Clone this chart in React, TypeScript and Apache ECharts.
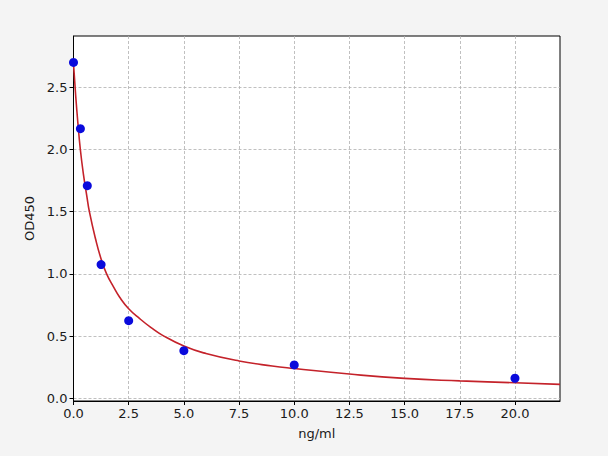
import { useEffect, useRef } from 'react';
import * as echarts from 'echarts';

// axis ticks
const xTicks = [0, 2.5, 5, 7.5, 10, 12.5, 15, 17.5, 20];
const yTicks = [0, 0.5, 1, 1.5, 2, 2.5];

// standards (measured points)
const standardConc = [0, 0.3125, 0.625, 1.25, 2.5, 5, 10, 20];
const standardOD = [2.7, 2.167, 1.709, 1.075, 0.624, 0.383, 0.268, 0.161];

// fitted curve
const fitConc = [0, 0.1, 0.2, 0.31, 0.45, 0.6, 0.72, 1, 1.25, 1.5, 1.8, 2.1, 2.5, 3, 3.5, 4, 5, 6, 7.5, 9, 10, 12.5, 15, 17.5, 20, 22.04];
const fitOD = [2.69, 2.43, 2.21, 2.0, 1.8, 1.63, 1.5, 1.28, 1.12, 1.0, 0.9, 0.81, 0.72, 0.64, 0.57, 0.51, 0.42, 0.36, 0.3, 0.26, 0.24, 0.195, 0.16, 0.14, 0.125, 0.112];

const FONT = '"DejaVu Sans", sans-serif';
const TEXT = '#1a1a1a';

export default function App() {
  const chartRef = useRef<HTMLDivElement>(null);

  useEffect(() => {
    if (!chartRef.current) return;
    document.body.style.margin = '0';
    const chart = echarts.init(chartRef.current, undefined, { renderer: 'svg' });

    const gridLine = { show: true, lineStyle: { color: '#b0b0b0', width: 0.8, type: [3, 2] as number[] } };
    const tick = { show: true, inside: false, length: 4, lineStyle: { color: '#000', width: 1 } };
    const label = (vals: number[]) => ({
      customValues: vals,
      color: TEXT,
      fontFamily: FONT,
      fontSize: 13,
      margin: 6,
      formatter: (v: number) => v.toFixed(1)
    });

    chart.setOption({
      animation: false,
      backgroundColor: '#f4f4f4',
      grid: {
        left: 73.5,
        top: 36,
        width: 486.5,
        height: 365,
        show: true,
        backgroundColor: '#fff',
        borderColor: '#000',
        borderWidth: 1,
        containLabel: false
      },
      xAxis: {
        type: 'value',
        min: 0,
        max: 22.04,
        name: 'ng/ml',
        nameLocation: 'middle',
        nameGap: 26,
        nameTextStyle: { color: TEXT, fontFamily: FONT, fontSize: 13 },
        axisLine: { show: true, onZero: false, lineStyle: { color: '#000', width: 1 } },
        axisTick: { ...tick, customValues: xTicks },
        axisLabel: label(xTicks),
        splitLine: gridLine
      },
      yAxis: {
        type: 'value',
        min: -0.0217,
        max: 2.912,
        name: 'OD450',
        nameLocation: 'middle',
        nameGap: 37,
        nameTextStyle: { color: TEXT, fontFamily: FONT, fontSize: 13 },
        axisLine: { show: true, onZero: false, lineStyle: { color: '#000', width: 1 } },
        axisTick: { ...tick, customValues: yTicks },
        axisLabel: label(yTicks),
        splitLine: gridLine
      },
      series: [
        {
          type: 'line',
          data: fitConc.map((x, i) => [x, fitOD[i]]),
          smooth: 0.5,
          showSymbol: false,
          symbol: 'none',
          lineStyle: { color: '#c4222a', width: 1.6 },
          z: 2
        },
        {
          type: 'scatter',
          data: standardConc.map((x, i) => [x, standardOD[i]]),
          symbol: 'circle',
          symbolSize: 9,
          itemStyle: { color: '#0a0adc', opacity: 1 },
          z: 3
        }
      ]
    });

    return () => chart.dispose();
  }, []);

  return <div ref={chartRef} style={{ width: 608, height: 456 }} />;
}
